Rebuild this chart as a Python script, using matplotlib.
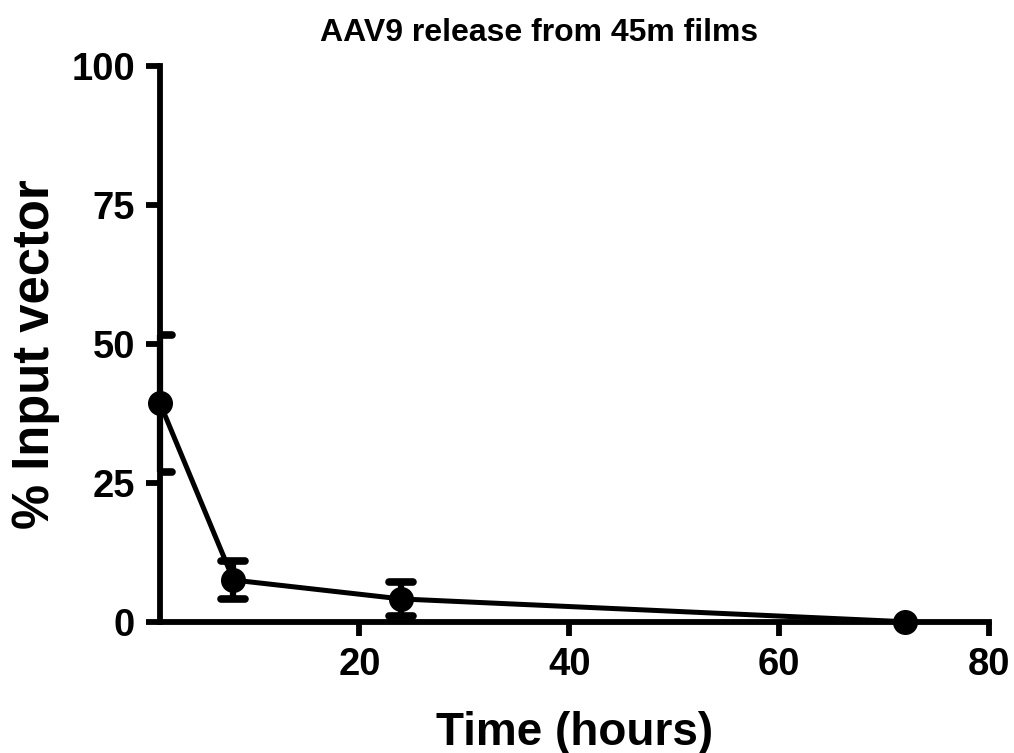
import matplotlib
matplotlib.use("Agg")
import matplotlib.pyplot as plt
from matplotlib.markers import MarkerStyle

# Release time course of AAV9 from 45m films
time_h = [1, 8, 24, 72]
pct_input = [39.4, 7.6, 4.2, 0.1]
pct_err = [12.3, 3.4, 3.05, 0.0]

x_ticks = [20, 40, 60, 80]
y_ticks = [0, 25, 50, 75, 100]

plt.rcParams["font.family"] = ["Liberation Sans", "DejaVu Sans"]
plt.rcParams["font.weight"] = "bold"

fig = plt.figure(figsize=(10.14, 7.53), dpi=100)
ax = fig.add_axes([160 / 1014, 1 - 622.3 / 753, 829 / 1014, 556 / 753])

# mean curve with markers
ax.plot(time_h, pct_input, color="black", lw=3.6, marker="o", markersize=17,
        markerfacecolor="black", markeredgecolor="black", zorder=4,
        clip_on=False)

# error bars only where a spread was measured
ex = [t for t, e in zip(time_h, pct_err) if e > 0]
ey = [v for v, e in zip(pct_input, pct_err) if e > 0]
ee = [e for e in pct_err if e > 0]
eb = ax.errorbar(ex, ey, yerr=ee, fmt="none", ecolor="black",
                 elinewidth=4.5, capsize=8.5, capthick=5.5, zorder=3)
for cap in eb[1]:
    cap.set_marker(MarkerStyle("_", capstyle="round"))
    cap.set_clip_on(True)
for bar in eb[2]:
    bar.set_clip_on(False)

ax.set_xlim(1, 80)
ax.set_ylim(0, 100)
ax.set_xticks(x_ticks)
ax.set_yticks(y_ticks)

for side in ("top", "right"):
    ax.spines[side].set_visible(False)
for side in ("left", "bottom"):
    ax.spines[side].set_linewidth(4.2)
    ax.spines[side].set_capstyle("projecting")

ax.tick_params(axis="both", direction="out", length=10, width=4.2,
               labelsize=27.5, pad=8)
for lbl in ax.get_xticklabels() + ax.get_yticklabels():
    lbl.set_fontweight("bold")

fig.text(539 / 1014, 1 - 33 / 753, "AAV9 release from 45m films",
         ha="center", va="center", fontsize=23, fontweight="bold")
fig.text(575 / 1014, 1 - 745 / 753, "Time (hours)",
         ha="center", va="baseline", fontsize=33, fontweight="bold")
fig.text(11 / 1014, 1 - 354 / 753, "% Input vector", rotation=90,
         ha="left", va="center", fontsize=36.5, fontweight="bold")

fig.savefig("out.png", dpi=100)
